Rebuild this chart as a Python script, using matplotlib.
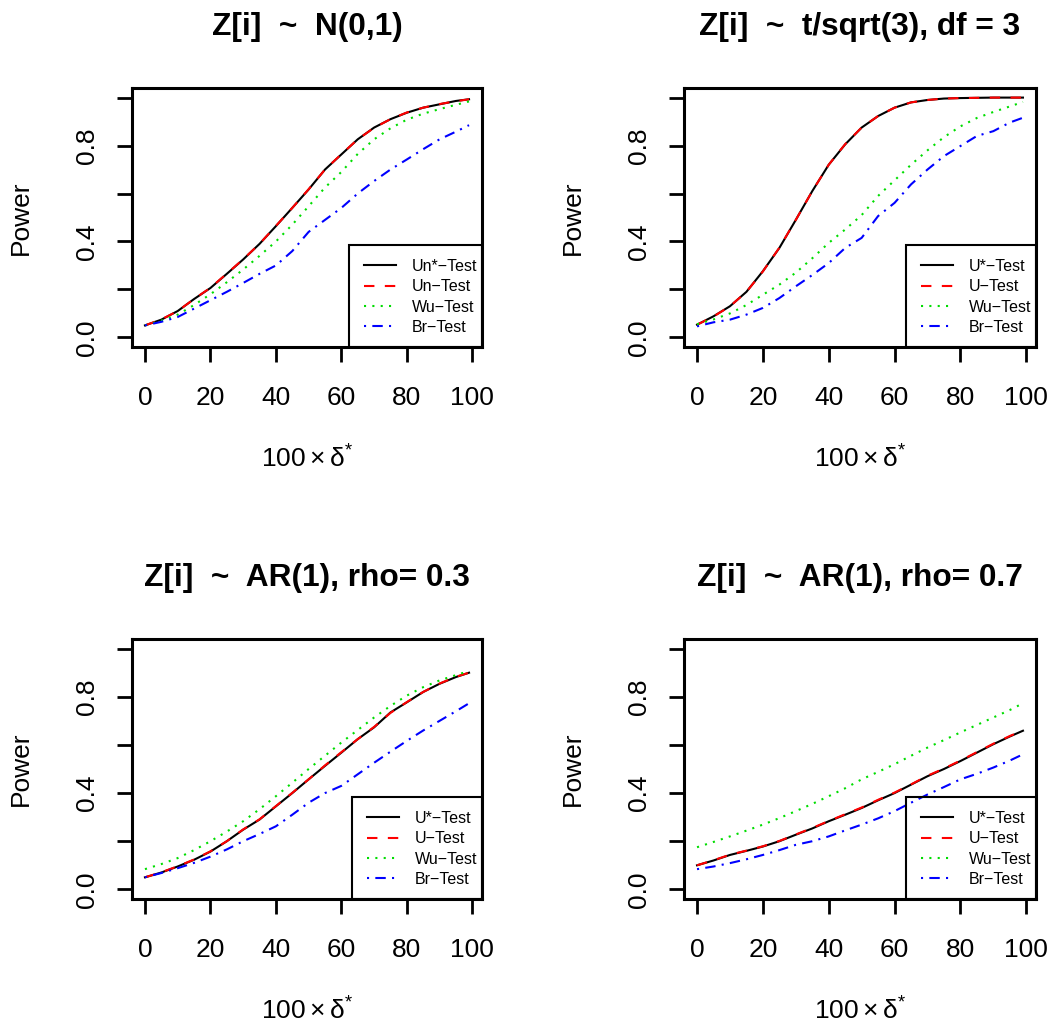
import numpy as np
import matplotlib.pyplot as plt
from matplotlib.patches import Rectangle

plt.rcParams['font.family'] = ['Liberation Sans', 'DejaVu Sans']
plt.rcParams['mathtext.fontset'] = 'custom'
plt.rcParams['mathtext.rm'] = 'Liberation Sans'
plt.rcParams['mathtext.it'] = 'Liberation Sans:italic'

# shift 100*delta*
x = [0, 5, 10, 15, 20, 25, 30, 35, 40, 45, 50, 55, 60, 65, 70, 75, 80, 85, 90, 95, 99]

titles = ["Z[i]  ~  N(0,1)", "Z[i]  ~  t/sqrt(3), df = 3",
          "Z[i]  ~  AR(1), rho= 0.3", "Z[i]  ~  AR(1), rho= 0.7"]
labels_p1 = ["Un*\u2212Test", "Un\u2212Test", "Wu\u2212Test", "Br\u2212Test"]
labels_other = ["U*\u2212Test", "U\u2212Test", "Wu\u2212Test", "Br\u2212Test"]

# panel 1: N(0,1)
un_star_1 = [0.05, 0.074, 0.11, 0.16, 0.206, 0.265, 0.325, 0.39, 0.464, 0.54, 0.617,
             0.70, 0.763, 0.826, 0.875, 0.91, 0.937, 0.958, 0.972, 0.986, 0.993]
un_1 = [0.05, 0.075, 0.11, 0.16, 0.207, 0.266, 0.326, 0.39, 0.465, 0.54, 0.618,
        0.70, 0.764, 0.826, 0.874, 0.91, 0.938, 0.958, 0.973, 0.985, 0.993]
wu_1 = [0.05, 0.07, 0.095, 0.135, 0.18, 0.23, 0.283, 0.34, 0.40, 0.47, 0.547,
        0.625, 0.69, 0.765, 0.826, 0.872, 0.908, 0.933, 0.952, 0.97, 0.984]
br_1 = [0.05, 0.065, 0.085, 0.12, 0.155, 0.19, 0.227, 0.265, 0.30, 0.36, 0.44,
        0.49, 0.54, 0.60, 0.652, 0.70, 0.742, 0.785, 0.826, 0.858, 0.885]

# panel 2: t/sqrt(3)
un_star_2 = [0.053, 0.088, 0.13, 0.19, 0.276, 0.373, 0.49, 0.61, 0.72, 0.805, 0.875,
             0.923, 0.958, 0.98, 0.99, 0.996, 0.998, 0.999, 1.0, 1.0, 1.0]
un_2 = [0.053, 0.087, 0.13, 0.19, 0.275, 0.374, 0.49, 0.61, 0.72, 0.806, 0.875,
        0.923, 0.958, 0.98, 0.99, 0.996, 0.998, 0.999, 1.0, 1.0, 1.0]
wu_2 = [0.055, 0.075, 0.10, 0.135, 0.178, 0.22, 0.27, 0.33, 0.394, 0.45, 0.51,
        0.59, 0.655, 0.72, 0.78, 0.835, 0.88, 0.915, 0.94, 0.963, 0.982]
br_2 = [0.046, 0.063, 0.074, 0.095, 0.123, 0.164, 0.213, 0.26, 0.31, 0.373, 0.415,
        0.506, 0.561, 0.638, 0.70, 0.756, 0.798, 0.84, 0.86, 0.896, 0.916]

# panel 3: AR(1) rho 0.3
un_star_3 = [0.05, 0.07, 0.095, 0.123, 0.157, 0.20, 0.248, 0.29, 0.345, 0.40, 0.457,
             0.513, 0.568, 0.624, 0.673, 0.735, 0.777, 0.82, 0.854, 0.882, 0.90]
un_3 = [0.05, 0.071, 0.096, 0.124, 0.158, 0.20, 0.249, 0.291, 0.346, 0.401, 0.457,
        0.515, 0.57, 0.624, 0.675, 0.733, 0.778, 0.82, 0.855, 0.883, 0.90]
wu_3 = [0.084, 0.105, 0.13, 0.163, 0.20, 0.24, 0.283, 0.333, 0.387, 0.443, 0.50,
        0.555, 0.61, 0.662, 0.714, 0.762, 0.805, 0.84, 0.868, 0.89, 0.907]
br_3 = [0.05, 0.068, 0.088, 0.11, 0.136, 0.166, 0.20, 0.23, 0.262, 0.31, 0.36,
        0.40, 0.43, 0.478, 0.526, 0.572, 0.617, 0.66, 0.70, 0.74, 0.773]

# panel 4: AR(1) rho 0.7
un_star_4 = [0.10, 0.12, 0.143, 0.16, 0.178, 0.20, 0.227, 0.253, 0.283, 0.31, 0.338,
             0.37, 0.40, 0.435, 0.47, 0.50, 0.533, 0.568, 0.603, 0.635, 0.659]
un_4 = [0.10, 0.121, 0.144, 0.161, 0.179, 0.201, 0.228, 0.255, 0.284, 0.312, 0.34,
        0.372, 0.402, 0.436, 0.472, 0.502, 0.535, 0.57, 0.605, 0.637, 0.66]
wu_4 = [0.175, 0.197, 0.22, 0.244, 0.269, 0.296, 0.325, 0.355, 0.387, 0.42, 0.457,
        0.488, 0.52, 0.555, 0.589, 0.62, 0.652, 0.683, 0.714, 0.745, 0.773]
br_4 = [0.084, 0.095, 0.109, 0.125, 0.143, 0.163, 0.185, 0.20, 0.22, 0.245, 0.269,
        0.295, 0.325, 0.36, 0.394, 0.425, 0.457, 0.48, 0.506, 0.535, 0.561]

panels = [
    (un_star_1, un_1, wu_1, br_1),
    (un_star_2, un_2, wu_2, br_2),
    (un_star_3, un_3, wu_3, br_3),
    (un_star_4, un_4, wu_4, br_4),
]

W, H = 1059, 1030
# axes boxes in pixels: left, right, top, bottom
boxes = [(132, 482, 88, 347), (684, 1036, 88, 347),
         (132, 482, 639, 899), (684, 1036, 639, 899)]

colors = ["black", "red", "#00DD00", "blue"]
styles = ["-", (0, (5, 5)), (0, (1, 3)), (0, (1, 3, 5, 3))]

fig = plt.figure(figsize=(W / 100, H / 100), dpi=100)
axes = []
legends = []

for i, (series, box) in enumerate(zip(panels, boxes)):
    l, r, t, b = box
    ax = fig.add_axes([l / W, 1 - b / H, (r - l) / W, (b - t) / H])
    labs = labels_p1 if i == 0 else labels_other
    for s, c, ls, lab in zip(series, colors, styles, labs):
        ax.plot(x, s, color=c, linestyle=ls, lw=1.5, label=lab)

    ax.set_xlim(-3.96, 102.96)
    ax.set_ylim(-0.04, 1.04)
    ax.set_xticks([0, 20, 40, 60, 80, 100])
    ax.set_xticklabels(["0", "20", "40", "60", "80", "100"])
    ax.set_yticks([0, 0.2, 0.4, 0.6, 0.8, 1.0])
    ax.set_yticklabels(["0.0", "", "0.4", "", "0.8", ""], rotation=90, va="center")
    ax.tick_params(direction="out", length=10.8, width=2, labelsize=19)
    ax.tick_params(axis="x", pad=17)
    ax.tick_params(axis="y", pad=13)
    for sp in ax.spines.values():
        sp.set_linewidth(2.2)

    ax.set_title(titles[i], fontsize=22.8, fontweight="bold", pad=38)
    ax.set_ylabel("Power", fontsize=19, labelpad=30)
    ax.set_xlabel(r"$\mathregular{100\times\delta^{*}}$", fontsize=19, labelpad=26)

    # R-style legend: entries right-aligned near the corner, frame drawn separately
    leg = ax.legend(loc="lower right",
                    bbox_to_anchor=(1 - 5 / (r - l), 12 / (b - t)),
                    borderaxespad=0, borderpad=0, frameon=False,
                    fontsize=11.5, handlelength=2.0, handletextpad=0.95,
                    labelspacing=0.34)
    axes.append(ax)
    legends.append(leg)

fig.canvas.draw()
for ax, leg in zip(axes, legends):
    bb = leg.get_window_extent()
    inv = ax.transAxes.inverted()
    x0, y1 = inv.transform((bb.x0 - 15, bb.y1 + 14))
    ax.add_patch(Rectangle((x0, 0), 1 - x0, y1, transform=ax.transAxes,
                           fill=False, lw=1.5, ec="black", clip_on=False, zorder=5))

plt.savefig("out.png", dpi=100)
